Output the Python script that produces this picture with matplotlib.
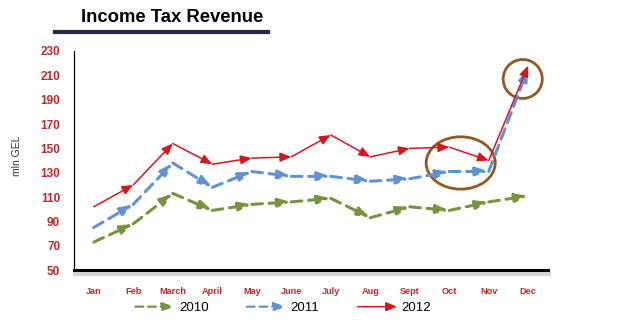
import matplotlib.pyplot as plt
import matplotlib.patheffects as pe
from matplotlib.patches import Ellipse, FancyArrowPatch
from matplotlib.legend_handler import HandlerBase
from matplotlib.lines import Line2D

plt.rcParams['font.family'] = ['Liberation Sans', 'DejaVu Sans']

# data (mln GEL)
months = ['Jan', 'Feb', 'March', 'April', 'May', 'June', 'July', 'Aug', 'Sept', 'Oct', 'Nov', 'Dec']
rev_2010 = [73, 88, 113, 99, 104, 106, 109, 93, 102, 99, 106, 111]
rev_2011 = [85, 104, 138, 118, 131, 127, 127, 123, 125, 131, 131, 216]
rev_2012 = [102, 120, 154, 137, 142, 143, 161, 143, 150, 151, 140, 218]
years = ['2010', '2011', '2012']
yticks = list(range(50, 231, 20))

GREEN = '#77933c'
BLUE = '#5f93d2'
RED = '#d8141e'
TICKRED = '#c0282d'

styles = {
    '2010': dict(color=GREEN, lw=2.2, ls=(0, (3.5, 2.2)), head='-|>,head_length=0.6,head_width=0.2', ms=12),
    '2011': dict(color=BLUE, lw=2.2, ls=(0, (3.5, 2.2)), head='-|>,head_length=0.6,head_width=0.2', ms=12),
    '2012': dict(color=RED, lw=1.1, ls='-', head='-|>,head_length=0.6,head_width=0.25', ms=11),
}


class ArrowHandler(HandlerBase):
    def create_artists(self, legend, orig_handle, xdescent, ydescent, width, height, fontsize, trans):
        st = styles[orig_handle.get_label()]
        y = height / 2 - ydescent
        a = FancyArrowPatch((-xdescent, y), (width - xdescent, y), arrowstyle=st['head'],
                            mutation_scale=st['ms'], color=st['color'], lw=min(st['lw'], 1.6),
                            linestyle=st['ls'], shrinkA=0, shrinkB=0, transform=trans)
        return [a]


fig = plt.figure(figsize=(6.22, 3.31), dpi=100)
ax = fig.add_axes([0.119, 0.184, 0.762, 0.662])

for year, vals in zip(years, [rev_2010, rev_2011, rev_2012]):
    st = styles[year]
    for i in range(len(vals) - 1):
        ax.annotate('', xy=(i + 1, vals[i + 1]), xytext=(i, vals[i]),
                    arrowprops=dict(arrowstyle=st['head'], color=st['color'], lw=st['lw'],
                                    linestyle=st['ls'], mutation_scale=st['ms'],
                                    shrinkA=0, shrinkB=0))

# highlight circles
ax.add_patch(Ellipse((9.29, 138), 1.75, 43, fill=False, ec='#94581f', lw=2))
ax.add_patch(Ellipse((10.86, 207), 0.99, 32, fill=False, ec='#94581f', lw=2))

ax.set_xlim(-0.5, 11.5)
ax.set_ylim(50, 230)
ax.set_xticks(range(len(months)))
ax.set_xticklabels(months, fontsize=6.6, fontweight='bold', color=TICKRED)
ax.set_yticks(yticks)
ax.set_yticklabels([str(t) for t in yticks], fontsize=8.5, fontweight='bold', color=TICKRED)
ax.tick_params(axis='both', length=0)
ax.tick_params(axis='x', pad=12)
ax.tick_params(axis='y', pad=10)

for s in ['top', 'right']:
    ax.spines[s].set_visible(False)
ax.spines['left'].set_linewidth(0.9)
ax.spines['bottom'].set_linewidth(2.2)
ax.spines['bottom'].set_path_effects([
    pe.SimpleLineShadow(offset=(1, -2.5), shadow_color='#888888', alpha=0.35, linewidth=3),
    pe.Normal()])

ax.set_ylabel('mln GEL', fontsize=7.5, color='#333333')
ax.yaxis.set_label_coords(-0.11, 0.52)

handles = [Line2D([], [], label=y) for y in years]
fig.legend(handles=handles, labels=years, handler_map={Line2D: ArrowHandler()},
           loc='center', bbox_to_anchor=(0.455, 0.069), ncol=3, frameon=False,
           fontsize=9.5, handlelength=3.0, handletextpad=0.3, columnspacing=2.9)

# title with underline bar
fig.text(0.277, 0.948, 'Income Tax Revenue', fontsize=13.3, fontweight='bold',
         ha='center', va='center')
fig.add_artist(Line2D([55 / 622, 268 / 622], [1 - 32 / 331, 1 - 32 / 331],
                      transform=fig.transFigure, color='#272747', lw=3))

fig.savefig('out.png', dpi=100)
